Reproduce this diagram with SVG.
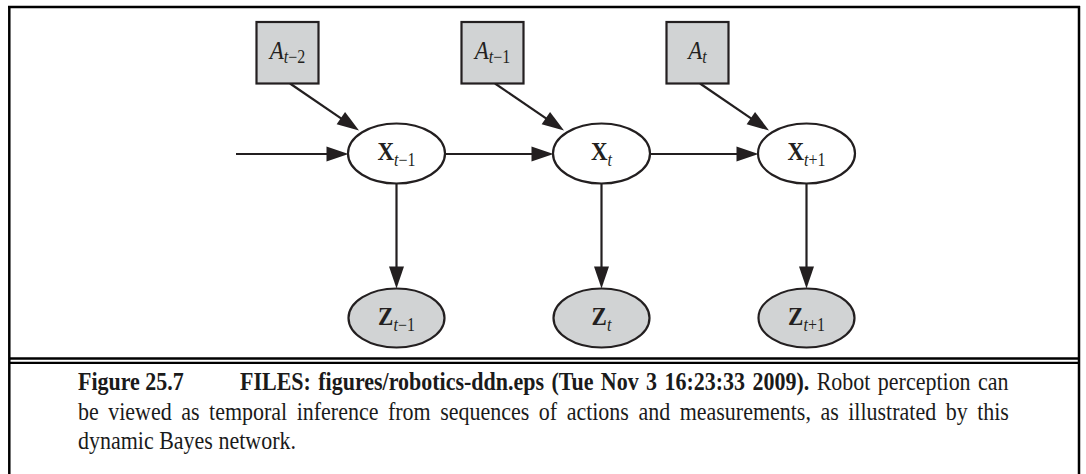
<svg xmlns="http://www.w3.org/2000/svg" width="1086" height="474" viewBox="0 0 1086 474">
<defs>
<style>
.frame{stroke:#000;stroke-width:2.5;fill:none}
.edge{stroke:#231f20;stroke-width:2.2;fill:none;marker-end:url(#ah)}
.box{fill:#d1d3d4;stroke:#231f20;stroke-width:2.2}
.st{fill:#fff;stroke:#231f20;stroke-width:2.2}
.obs{fill:#d1d3d4;stroke:#231f20;stroke-width:2.2}
.lbl{font-family:"Liberation Serif","Times New Roman",serif;fill:#231f20;text-anchor:middle;font-size:23px}
.bold{font-weight:bold}
.it{font-style:italic}
.sub{font-size:16px}
.cap{font-family:"Liberation Serif","Times New Roman",serif;font-size:22px;fill:#1a1a1a}
</style>
<marker id="ah" markerUnits="userSpaceOnUse" markerWidth="23" markerHeight="15" refX="2" refY="7.5" orient="auto" overflow="visible">
<path d="M0,0 L22,7.5 L0,15 Z" fill="#231f20"/>
</marker>
</defs>
<rect width="1086" height="474" fill="#fff"/>
<g id="frame">
<line class="frame" x1="8" y1="7" x2="1080" y2="7"/>
<line class="frame" x1="9.3" y1="6" x2="9.3" y2="474"/>
<line class="frame" x1="1079" y1="6" x2="1079" y2="474"/>
<line class="frame" x1="9" y1="358.5" x2="1079" y2="358.5" style="stroke-width:2.3"/>
<line class="frame" x1="9" y1="362.8" x2="1079" y2="362.8" style="stroke-width:2.3"/>
</g>
<g id="connectors">
<line class="edge" x1="236" y1="154" x2="328.5" y2="154"/>
<line class="edge" x1="445.5" y1="154" x2="533.5" y2="154"/>
<line class="edge" x1="650.5" y1="154" x2="738.5" y2="154"/>
<line class="edge" x1="290" y1="83.5" x2="342.5" y2="119.3"/>
<line class="edge" x1="495" y1="83.5" x2="547.5" y2="119.3"/>
<line class="edge" x1="700" y1="83.5" x2="752.5" y2="119.3"/>
<line class="edge" x1="396.5" y1="183.5" x2="396.5" y2="268.5"/>
<line class="edge" x1="601.5" y1="183.5" x2="601.5" y2="268.5"/>
<line class="edge" x1="806.5" y1="183.5" x2="806.5" y2="268.5"/>
</g>
<g id="A_tm2">
<rect class="box" x="256.5" y="22" width="62" height="61.5"/>
<text class="lbl" transform="translate(287.5,59) scale(1,1.12)"><tspan class="it">A</tspan><tspan class="sub it" dy="4">t</tspan><tspan class="sub">−2</tspan></text>
</g>
<g id="A_tm1">
<rect class="box" x="461.5" y="22" width="62" height="61.5"/>
<text class="lbl" transform="translate(492.5,59) scale(1,1.12)"><tspan class="it">A</tspan><tspan class="sub it" dy="4">t</tspan><tspan class="sub">−1</tspan></text>
</g>
<g id="A_t">
<rect class="box" x="666.5" y="22" width="62" height="61.5"/>
<text class="lbl" transform="translate(697.5,59) scale(1,1.12)"><tspan class="it">A</tspan><tspan class="sub it" dy="4">t</tspan></text>
</g>
<g id="X_tm1">
<ellipse class="st" cx="396.5" cy="153.5" rx="48.5" ry="30"/>
<text class="lbl" transform="translate(396.5,160) scale(1,1.12)"><tspan class="bold">X</tspan><tspan class="sub it" dy="5.5">t</tspan><tspan class="sub">−1</tspan></text>
</g>
<g id="X_t">
<ellipse class="st" cx="601.5" cy="153.5" rx="48.5" ry="30"/>
<text class="lbl" transform="translate(601.5,160) scale(1,1.12)"><tspan class="bold">X</tspan><tspan class="sub it" dy="5.5">t</tspan></text>
</g>
<g id="X_tp1">
<ellipse class="st" cx="806.5" cy="153.5" rx="48.5" ry="30"/>
<text class="lbl" transform="translate(806.5,160) scale(1,1.12)"><tspan class="bold">X</tspan><tspan class="sub it" dy="5.5">t</tspan><tspan class="sub">+1</tspan></text>
</g>
<g id="Z_tm1">
<ellipse class="obs" cx="396.5" cy="318" rx="48" ry="29.5"/>
<text class="lbl" transform="translate(396.5,324.5) scale(1,1.12)"><tspan class="bold">Z</tspan><tspan class="sub it" dy="5.5">t</tspan><tspan class="sub">−1</tspan></text>
</g>
<g id="Z_t">
<ellipse class="obs" cx="601.5" cy="318" rx="48" ry="29.5"/>
<text class="lbl" transform="translate(601.5,324.5) scale(1,1.12)"><tspan class="bold">Z</tspan><tspan class="sub it" dy="5.5">t</tspan></text>
</g>
<g id="Z_tp1">
<ellipse class="obs" cx="806.5" cy="318" rx="48" ry="29.5"/>
<text class="lbl" transform="translate(806.5,324.5) scale(1,1.12)"><tspan class="bold">Z</tspan><tspan class="sub it" dy="5.5">t</tspan><tspan class="sub">+1</tspan></text>
</g>
<g id="caption">
<text class="cap" transform="translate(0,390) scale(1,1.12)"><tspan x="78" font-weight="bold">Figure 25.7</tspan><tspan x="240" font-weight="bold" word-spacing="1.9">FILES: figures/robotics-ddn.eps (Tue Nov 3 16:23:33 2009).</tspan><tspan word-spacing="1.9"> Robot perception can</tspan></text>
<text class="cap" transform="translate(0,419.5) scale(1,1.12)" x="78" word-spacing="4">be viewed as temporal inference from sequences of actions and measurements, as illustrated by this</text>
<text class="cap" transform="translate(0,449) scale(1,1.12)" x="78">dynamic Bayes network.</text>
</g>
</svg>
